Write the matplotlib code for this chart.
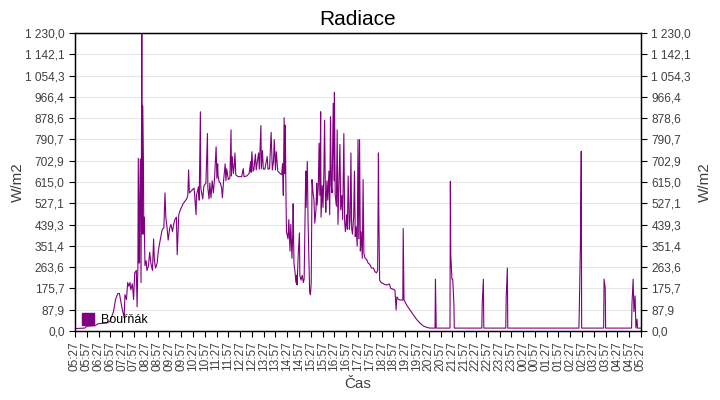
import matplotlib
matplotlib.use("Agg")
import matplotlib.pyplot as plt
import matplotlib.patches as mpatches
from matplotlib.ticker import FuncFormatter
import numpy as np

plt.rcParams["font.family"] = ["Liberation Sans", "DejaVu Sans"]

# --- data: clock time (HH:MM) and radiation in W/m2 ---
t_morning = ["05:27", "05:52", "05:57", "06:18", "06:26", "06:48", "06:56", "07:05",
             "07:10", "07:16", "07:20", "07:26", "07:32", "07:34", "07:38", "07:41",
             "07:44", "07:47", "07:49", "07:53", "07:56", "07:59", "08:03", "08:05",
             "08:07", "08:08", "08:10", "08:11", "08:13", "08:15", "08:17", "08:18",
             "08:19", "08:21", "08:22", "08:23", "08:25", "08:28", "08:30", "08:34",
             "08:37", "08:40", "08:44", "08:47", "08:49", "08:52", "08:56", "08:59",
             "09:02", "09:06", "09:09", "09:13", "09:16", "09:18", "09:21", "09:24",
             "09:28", "09:31", "09:35", "09:38", "09:41", "09:45", "09:47", "09:51"]
v_morning = [10, 12, 20, 22, 30, 33, 40, 80,
             130, 155, 155, 100, 55, 150, 130, 200,
             185, 200, 170, 195, 130, 240, 250, 100,
             270, 713, 280, 450, 710, 200, 1230, 400,
             930, 713, 400, 470, 270, 290, 250, 270,
             325, 280, 250, 380, 290, 260, 280, 330,
             360, 395, 420, 425, 570, 470, 430, 375,
             425, 440, 410, 440, 460, 470, 315, 480]

t_midday = ["09:55", "10:02", "10:11", "10:14", "10:16", "10:18", "10:24", "10:30",
            "10:35", "10:36", "10:41", "10:43", "10:46", "10:47", "10:52", "10:55",
            "11:00", "11:04", "11:05", "11:08", "11:10", "11:13", "11:16", "11:19",
            "11:22", "11:26", "11:28", "11:30", "11:31", "11:34", "11:37", "11:40",
            "11:42", "11:45", "11:49", "11:51", "11:53", "11:57", "12:01", "12:04",
            "12:05", "12:07", "12:10", "12:12", "12:14", "12:16", "12:22", "12:31",
            "12:35", "12:37", "12:44", "12:50", "12:54", "12:55", "12:57", "13:00",
            "13:02", "13:06", "13:08", "13:11", "13:14", "13:16", "13:20", "13:21",
            "13:24", "13:26", "13:30", "13:36", "13:38", "13:42", "13:46", "13:49",
            "13:52", "13:54", "13:57", "13:59", "14:03", "14:09", "14:13", "14:15",
            "14:17", "14:19", "14:21", "14:22", "14:24"]
v_midday = [500, 525, 545, 560, 665, 570, 580, 590,
            480, 560, 595, 540, 905, 590, 545, 600,
            610, 815, 590, 545, 610, 550, 620, 570,
            630, 760, 630, 690, 640, 615, 610, 590,
            550, 620, 690, 620, 670, 625, 630, 830,
            640, 720, 650, 680, 735, 645, 637, 637,
            670, 637, 640, 650, 700, 655, 740, 660,
            665, 730, 665, 700, 735, 668, 848, 670,
            745, 668, 668, 720, 668, 670, 820, 665,
            700, 790, 665, 740, 660, 650, 645, 690,
            560, 880, 650, 850, 520]

t_afternoon = ["14:25", "14:29", "14:31", "14:34", "14:36", "14:39", "14:41", "14:42",
               "14:44", "14:47", "14:49", "14:51", "14:52", "14:55", "14:58", "14:59",
               "15:02", "15:05", "15:08", "15:10", "15:14", "15:15", "15:18", "15:20",
               "15:22", "15:24", "15:26", "15:28", "15:30", "15:32", "15:35", "15:37",
               "15:40", "15:42", "15:43", "15:46", "15:48", "15:50", "15:52", "15:53",
               "15:56", "15:58", "16:00", "16:02", "16:04", "16:05", "16:08", "16:10",
               "16:13", "16:15", "16:17", "16:19", "16:21", "16:24", "16:26", "16:27",
               "16:29", "16:32", "16:34", "16:36", "16:38", "16:41", "16:43", "16:46",
               "16:48", "16:51", "16:53", "16:55", "16:58", "17:00", "17:02", "17:05",
               "17:07", "17:09", "17:11", "17:13", "17:16", "17:18", "17:20", "17:22",
               "17:25", "17:27", "17:29", "17:31", "17:33", "17:35", "17:38", "17:40",
               "17:42", "17:45", "17:49", "17:53", "17:57", "18:01", "18:06", "18:10",
               "18:14", "18:17", "18:19", "18:20", "18:22"]
v_afternoon = [410, 380, 460, 330, 440, 300, 400, 525,
               280, 240, 200, 230, 190, 320, 405, 230,
               210, 230, 200, 215, 660, 510, 700, 450,
               300, 160, 150, 200, 625, 580, 540, 445,
               500, 610, 520, 600, 775, 560, 905, 470,
               600, 510, 640, 870, 560, 490, 620, 540,
               660, 480, 885, 600, 570, 940, 620, 985,
               560, 515, 830, 440, 570, 770, 500, 560,
               460, 815, 450, 410, 480, 420, 640, 420,
               460, 735, 420, 400, 470, 660, 390, 430,
               350, 790, 380, 790, 330, 410, 300, 625,
               320, 300, 295, 280, 275, 260, 260, 245,
               240, 250, 735, 480, 210]

t_evening = ["18:26", "18:31", "18:35", "18:40", "18:47", "18:50", "18:57", "19:01",
             "19:04", "19:06", "19:10", "19:14", "19:21", "19:22", "19:24", "19:31",
             "19:39", "19:48", "19:56", "20:05", "20:13", "20:22", "20:30"]
v_evening = [200, 196, 192, 190, 194, 176, 172, 169,
             87, 141, 130, 128, 128, 423, 128, 107,
             87, 66, 48, 32, 21, 15, 12]

t_night = ["20:43", "20:44", "20:45", "20:46", "21:21", "21:22", "21:23", "21:26",
           "21:28", "21:31", "21:32", "22:42", "22:43", "22:46", "22:47", "23:43",
           "23:44", "23:47", "23:48", "02:49", "02:50", "02:53", "02:55", "02:56",
           "03:52", "03:53", "03:56", "03:57", "05:03", "05:04", "05:07", "05:09",
           "05:12", "05:14", "05:17", "05:18", "05:27"]
v_night = [12, 214, 111, 12, 12, 618, 313, 214,
           214, 111, 12, 12, 111, 214, 12, 12,
           137, 260, 12, 12, 80, 375, 742, 12,
           12, 214, 177, 12, 12, 111, 214, 80,
           145, 12, 49, 12, 12]

y_max = 1230.0
y_ticks = np.linspace(0, y_max, 15)
start_clock = "05:27"


def clock_to_offset(clocks):
    """Minutes since 05:27, unwrapped past midnight."""
    h0, m0 = map(int, start_clock.split(":"))
    base = h0 * 60 + m0
    out, prev = [], -1
    for c in clocks:
        h, m = map(int, c.split(":"))
        off = (h * 60 + m - base) % 1440
        if off < prev or (off == 0 and prev > 0):
            off += 1440
        out.append(off)
        prev = off
    return out


times = clock_to_offset(t_morning + t_midday + t_afternoon + t_evening + t_night)
values = v_morning + v_midday + v_afternoon + v_evening + v_night


def fmt_cz(v, _pos=None):
    s = f"{v:,.1f}"
    return s.replace(",", " ").replace(".", ",")


def tick_label(off):
    h0, m0 = map(int, start_clock.split(":"))
    tot = (h0 * 60 + m0 + int(off)) % 1440
    return f"{tot // 60:02d}:{tot % 60:02d}"


purple = "#800080"
label_col = "#404040"

fig = plt.figure(figsize=(7.2, 4.0), dpi=100)
ax = fig.add_axes([75 / 720, 1 - 331 / 400, 566 / 720, 298 / 400])

ax.plot(times, values, color=purple, lw=0.8)

ax.set_xlim(0, 1440)
ax.set_ylim(0, y_max)
xt = np.arange(0, 1441, 30)
ax.set_xticks(xt)
ax.set_xticklabels([tick_label(x) for x in xt], rotation=90)

# right-hand axis mirrors the left one
ax2 = ax.twinx()
ax2.set_ylim(ax.get_ylim())
for a, pad in ((ax, 0), (ax2, 5)):
    a.set_yticks(y_ticks)
    a.yaxis.set_major_formatter(FuncFormatter(fmt_cz))
    a.tick_params(axis="both", labelsize=8.6, colors="black", labelcolor=label_col,
                  length=4, width=0.8, direction="out")
    a.set_ylabel("W/m2", fontsize=11, color=label_col, labelpad=pad)

ax.grid(axis="y", color="#e6e6e6", lw=0.8)
ax.set_axisbelow(True)
for sp in ax.spines.values():
    sp.set_color("black")
    sp.set_linewidth(1.0)

ax.set_xlabel("Čas", fontsize=11, color=label_col, labelpad=4)
ax.set_title("Radiace", fontsize=15, pad=6)

handle = mpatches.Patch(color=purple, label="Bouřňák")
ax.legend(handles=[handle], loc="lower left", frameon=False, fontsize=9,
          handlelength=0.9, handleheight=1.1, handletextpad=0.6,
          borderaxespad=0.0, bbox_to_anchor=(0.004, 0.0))

fig.savefig("out.png", dpi=100)
